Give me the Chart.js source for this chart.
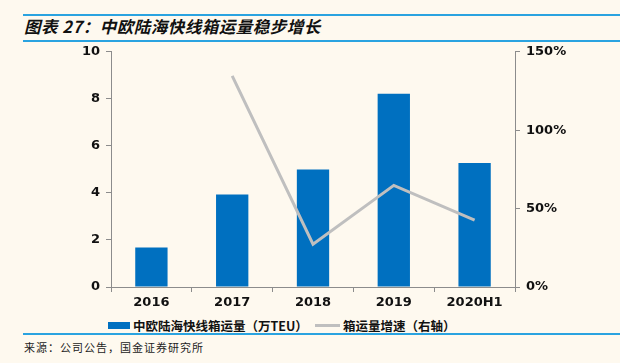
<!DOCTYPE html>
<html>
<head>
<meta charset="utf-8">
<script src="https://cdn.jsdelivr.net/npm/chart.js@4/dist/chart.umd.min.js"></script>
<style>
  body { margin: 0; background: #FEF9EF; width: 620px; height: 363px; position: relative; overflow: hidden; font-family: "Noto Sans CJK SC", "DejaVu Sans", sans-serif; }
  .rule { position: absolute; left: 23px; right: 0; height: 2px; background: #2AA3E0; }
  #title { position: absolute; left: 24px; top: 14px; font-size: 16.5px; font-weight: bold; font-style: italic; color: #111; letter-spacing: 0.5px; }
  #chart-box { position: absolute; left: 0; top: 38px; width: 620px; height: 278px; }
  .legend { position: absolute; top: 316px; font-size: 12.5px; font-weight: bold; color: #111; display: flex; align-items: center; }
  .swatch { display: inline-block; margin-right: 3px; }
  #source { position: absolute; left: 24px; top: 339px; font-size: 11px; color: #222; letter-spacing: 1px; }
</style>
</head>
<body>
<div class="rule" style="top:14px"></div>
<div id="title">图表 27：中欧陆海快线箱运量稳步增长</div>
<div class="rule" style="top:40px"></div>
<div id="chart-box"><canvas id="chart"></canvas></div>
<div class="legend" style="left:108px"><span class="swatch" style="width:22px;height:7px;background:#0070C0"></span>中欧陆海快线箱运量（万TEU）</div>
<div class="legend" style="left:315px"><span class="swatch" style="width:25px;height:3px;background:#BFBFBF"></span>箱运量增速（右轴）</div>
<div class="rule" style="top:333px"></div>
<div id="source">来源：公司公告，国金证券研究所</div>
<script>
// 数据
const years = ['2016', '2017', '2018', '2019', '2020H1'];
const volume = [1.68, 3.93, 5.0, 8.22, 5.27];      // 万TEU
const growth = [null, 134.7, 27.3, 64.8, 42.6];     // %

const axisColor = '#8C8C8C';
const tickFont = { family: 'DejaVu Sans', size: 13, weight: 'bold' };

const ctx = document.getElementById('chart').getContext('2d');
new Chart(ctx, {
    data: {
        labels: years,
        datasets: [
            { type: 'bar', label: '中欧陆海快线箱运量（万TEU）', data: volume, yAxisID: 'y',
              backgroundColor: '#0070C0', categoryPercentage: 0.4, barPercentage: 1, order: 2 },
            { type: 'line', label: '箱运量增速（右轴）', data: growth, yAxisID: 'y1',
              borderColor: '#BFBFBF', borderWidth: 3, pointRadius: 0, tension: 0, spanGaps: false, order: 1 }
        ]
    },
    options: {
        responsive: true,
        maintainAspectRatio: false,
        animation: false,
        layout: { padding: { top: 4, left: 0, right: 0, bottom: 0 } },
        plugins: { legend: { display: false }, tooltip: { enabled: false } },
        scales: {
            x: {
                offset: true,
                grid: { display: true, drawOnChartArea: false, offset: true, color: axisColor, tickLength: 5 },
                border: { color: axisColor },
                ticks: { color: '#111', font: tickFont, padding: 3 },
                afterFit: s => { s.height = 29; }
            },
            y: {
                position: 'left', min: 0, max: 10,
                ticks: { stepSize: 2, color: '#111', font: tickFont, padding: 6 },
                grid: { drawOnChartArea: false, color: axisColor, tickLength: 5 },
                border: { color: axisColor },
                afterFit: s => { s.width = 111; }
            },
            y1: {
                position: 'right', min: 0, max: 150,
                ticks: { stepSize: 50, color: '#111', font: tickFont, padding: 6, callback: v => v + '%' },
                grid: { drawOnChartArea: false, color: axisColor, tickLength: 5 },
                border: { color: axisColor },
                afterFit: s => { s.width = 105; }
            }
        }
    }
});
</script>
</body>
</html>
